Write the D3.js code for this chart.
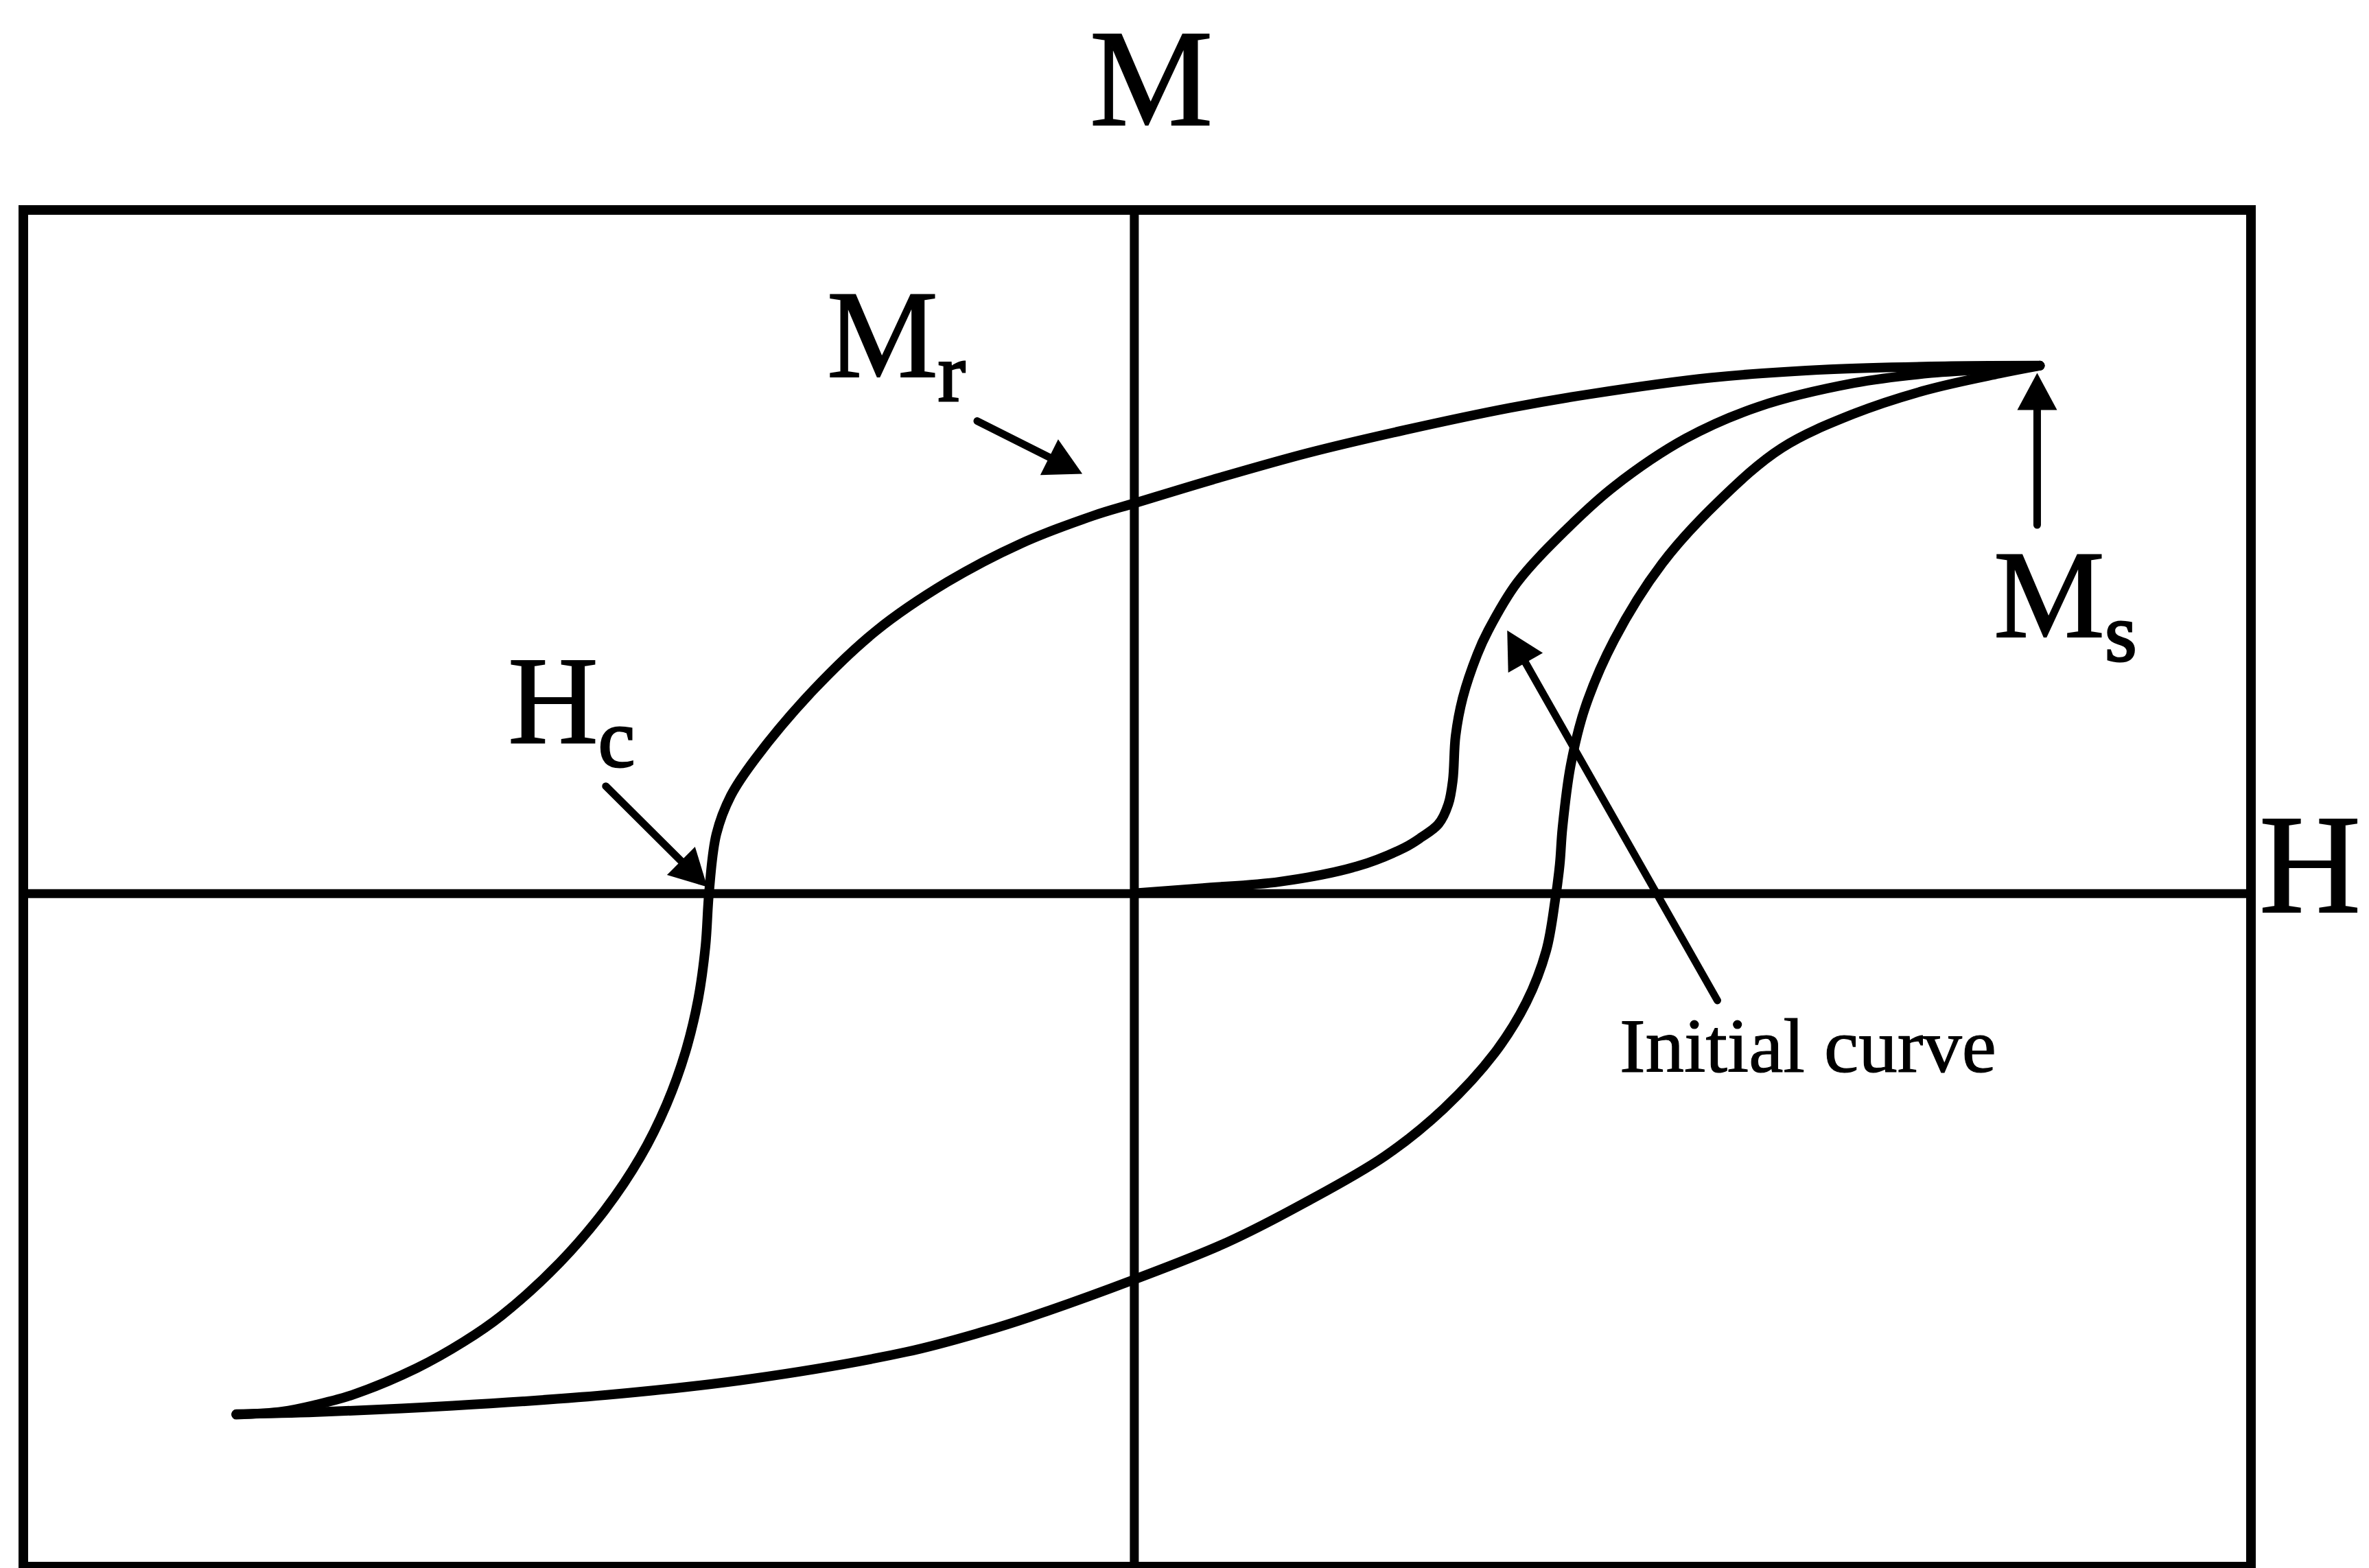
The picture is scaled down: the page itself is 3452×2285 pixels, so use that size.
<!DOCTYPE html>
<html>
<head>
<meta charset="utf-8">
<script src="https://cdn.jsdelivr.net/npm/d3@7"></script>
<style>
  body { margin: 0; background: #fff; }
  text { font-family: "Liberation Serif", "Times New Roman", serif; fill: #000; stroke: #000; }
</style>
</head>
<body>
<div id="chart"></div>
<script>
// H and M are normalised so the saturation tip sits at (1, 1)

// descending branch: from +Ms back round to -Ms
const descH = [1.000, 0.902, 0.768, 0.636, 0.503, 0.415, 0.299, 0.193, 0.087, 0.002, -0.046, -0.126, -0.206, -0.285, -0.354, -0.418, -0.445, -0.461, -0.469, -0.473, -0.481, -0.495, -0.516, -0.545, -0.584, -0.634, -0.698, -0.740, -0.792, -0.862, -0.905, -0.940, -0.991];
const descM = [1.000, 0.999, 0.993, 0.977, 0.946, 0.920, 0.878, 0.835, 0.784, 0.740, 0.715, 0.662, 0.590, 0.497, 0.385, 0.255, 0.185, 0.112, 0.003, -0.100, -0.200, -0.300, -0.400, -0.500, -0.600, -0.700, -0.800, -0.850, -0.900, -0.950, -0.970, -0.982, -0.988];

// ascending branch: from -Ms up to +Ms
const ascH = [-0.991, -0.902, -0.752, -0.584, -0.422, -0.251, -0.167, -0.115, 0, 0.102, 0.189, 0.277, 0.342, 0.398, 0.433, 0.455, 0.465, 0.470, 0.473, 0.482, 0.498, 0.530, 0.583, 0.646, 0.715, 0.795, 0.875, 0.955, 1.000];
const ascM = [-0.987, -0.983, -0.971, -0.951, -0.920, -0.869, -0.831, -0.803, -0.732, -0.662, -0.586, -0.498, -0.408, -0.303, -0.207, -0.109, -0.012, 0.055, 0.124, 0.242, 0.352, 0.480, 0.625, 0.744, 0.844, 0.909, 0.954, 0.985, 1.000];

// initial magnetisation curve from the origin
const initH = [0, 0.076, 0.161, 0.246, 0.299, 0.317, 0.336, 0.347, 0.352, 0.355, 0.363, 0.379, 0.391, 0.423, 0.477, 0.530, 0.609, 0.689, 0.795, 0.880, 0.981, 1.000];
const initM = [0, 0.010, 0.022, 0.051, 0.087, 0.106, 0.131, 0.169, 0.215, 0.298, 0.371, 0.453, 0.498, 0.589, 0.689, 0.771, 0.862, 0.922, 0.967, 0.986, 0.997, 1.000];

// label texts
const axisNames = ["M", "H"];
const pointNames = ["M", "H", "M"];
const pointSubs = ["r", "c", "s"];
const curveName = "Initial curve";

const W = 3452, H = 2285;

const svg = d3.select("#chart")
  .append("svg")
    .attr("width", W)
    .attr("height", H)
    .style("display", "block");

svg.append("rect").attr("width", W).attr("height", H).attr("fill", "#fff");

const x = d3.scaleLinear()
  .domain([-1.226, 1.233])
  .range([34, 3280]);

const y = d3.scaleLinear()
  .domain([-1.276, 1.295])
  .range([2283, 306]);

// frame
svg.append("rect")
  .attr("x", x.range()[0])
  .attr("y", y.range()[1])
  .attr("width", x.range()[1] - x.range()[0])
  .attr("height", y.range()[0] - y.range()[1])
  .attr("fill", "none")
  .attr("stroke", "#000")
  .attr("stroke-width", 14);

// axes through the origin, no ticks
const hAxis = svg.append("g")
  .attr("transform", `translate(0, ${y(0)})`)
  .call(d3.axisBottom(x).tickValues([]).tickSizeOuter(0));
const mAxis = svg.append("g")
  .attr("transform", `translate(${x(0)}, 0)`)
  .call(d3.axisLeft(y).tickValues([]).tickSizeOuter(0));
[hAxis, mAxis].forEach(g => g.select(".domain").attr("stroke", "#000").attr("stroke-width", 13));

// curves
const line = d3.line()
  .x(d => x(d[0]))
  .y(d => y(d[1]))
  .curve(d3.curveCatmullRom.alpha(0.5));

const branches = [
  d3.zip(descH, descM),
  d3.zip(ascH, ascM),
  d3.zip(initH, initM)
];

svg.append("g")
  .selectAll("path")
  .data(branches)
  .join("path")
    .attr("d", line)
    .attr("fill", "none")
    .attr("stroke", "#000")
    .attr("stroke-width", 14)
    .attr("stroke-linecap", "round")
    .attr("stroke-linejoin", "round");

// annotation arrows, [fromH, fromM, toH, toM]
const arrows = [
  [-0.173, 0.895, -0.057, 0.795],
  [-0.583, 0.203, -0.471, 0.012],
  [0.997, 0.698, 0.997, 0.986],
  [0.644, -0.203, 0.412, 0.498]
];

const headLen = 54, headW = 58;
const ag = svg.append("g");
arrows.forEach(a => {
  const x0 = x(a[0]), y0 = y(a[1]), x1 = x(a[2]), y1 = y(a[3]);
  const len = Math.hypot(x1 - x0, y1 - y0);
  const ux = (x1 - x0) / len, uy = (y1 - y0) / len;
  const bx = x1 - ux * headLen, by = y1 - uy * headLen;
  ag.append("line")
    .attr("x1", x0).attr("y1", y0)
    .attr("x2", bx + ux * 4).attr("y2", by + uy * 4)
    .attr("stroke", "#000")
    .attr("stroke-width", 11)
    .attr("stroke-linecap", "round");
  ag.append("polygon")
    .attr("points", [
      [x1, y1],
      [bx - uy * headW / 2, by + ux * headW / 2],
      [bx + uy * headW / 2, by - ux * headW / 2]
    ].map(p => p.join(",")).join(" "))
    .attr("fill", "#000");
});

// axis names
svg.append("text")
  .attr("x", x(0.019)).attr("y", y(1.456))
  .attr("text-anchor", "middle")
  .style("font-size", "202px")
  .style("stroke-width", "2px")
  .text(axisNames[0]);

svg.append("text")
  .attr("x", x(1.242)).attr("y", y(-0.036))
  .style("font-size", "205px")
  .style("stroke-width", "2px")
  .text(axisNames[1]);

// Mr, Hc, Ms
const pointPos = [[-0.339, 0.979], [-0.691, 0.286], [0.949, 0.486]];
pointNames.forEach((name, i) => {
  const t = svg.append("text")
    .attr("x", x(pointPos[i][0]))
    .attr("y", y(pointPos[i][1]))
    .style("font-size", "182px")
    .style("stroke-width", "2px");
  t.append("tspan").text(name);
  t.append("tspan")
    .attr("dy", 35)
    .style("font-size", "120px")
    .style("stroke-width", "3px")
    .text(pointSubs[i]);
});

svg.append("text")
  .attr("x", x(0.536)).attr("y", y(-0.338))
  .style("font-size", "113px")
  .style("stroke-width", "1.2px")
  .text(curveName);
</script>
</body>
</html>
